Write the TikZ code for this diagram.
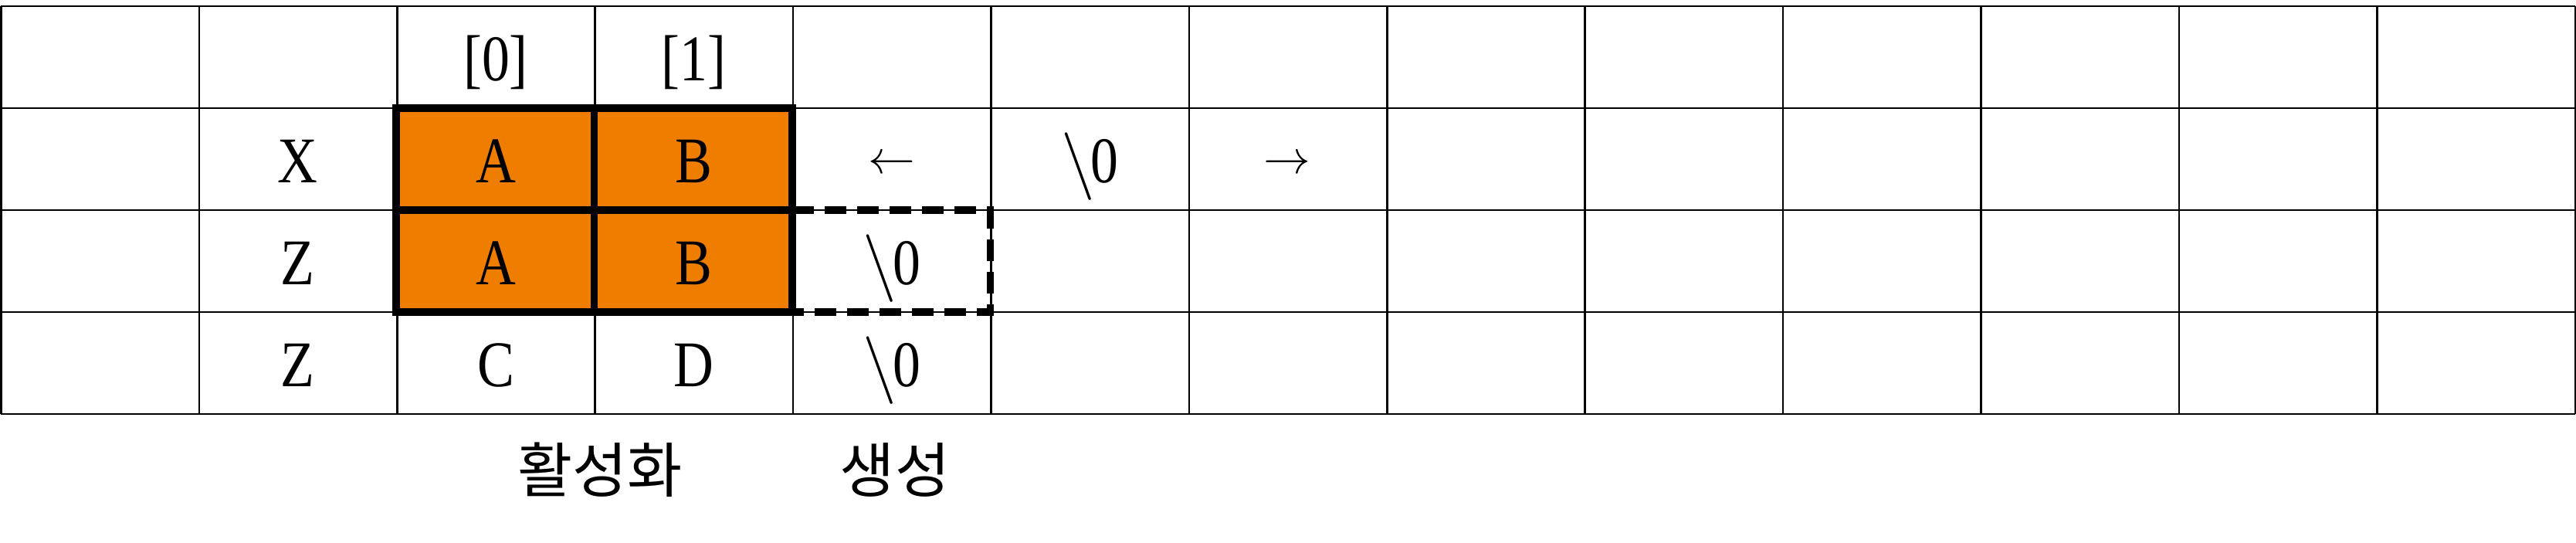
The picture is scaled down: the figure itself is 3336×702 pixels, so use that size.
\documentclass[tikz,border=0pt]{standalone}
\usepackage{fontspec}
\setmainfont[FakeStretch=0.85]{Liberation Serif}
\newfontfamily\krfont{Noto Sans CJK KR}
\definecolor{cellorange}{RGB}{238,125,0}
\newcommand{\bsz}{\raisebox{-0.02em}{$\backslash$}\kern-0.06em 0}
\begin{document}
\begin{tikzpicture}[x=0.01cm,y=-0.01cm,
  gridline/.style={line width=0.7pt,black},
  thickline/.style={line width=2.7pt,black},
  dashline/.style={line width=2.7pt,black,dash pattern=on 0.28cm off 0.14cm},
  celltext/.style={font=\fontsize{24}{28}\selectfont,inner sep=0pt,anchor=base},
  arrowtext/.style={font=\fontsize{17}{20}\selectfont,inner sep=0pt,anchor=center},
  krtext/.style={font=\krfont\fontsize{22}{26}\selectfont,inner sep=0pt,anchor=center}]
\useasboundingbox (0,0) rectangle (3336,702);
% orange block
\fill[cellorange] (513,140) rectangle (1026,404);
% grid
\foreach \i in {0,...,13} \draw[gridline] ({1.5+\i*256.4},8) -- ({1.5+\i*256.4},536);
\foreach \y in {8,140,272,404,536} \draw[gridline] (1.5,\y) -- (3334.7,\y);
% thick border
\draw[thickline] (513,140) rectangle (1026,404);
\draw[thickline] (769.5,140) -- (769.5,404);
\draw[thickline] (513,272) -- (1026,272);
% dashed box
\draw[dashline] (1026,272) -- (1282.5,272) -- (1282.5,404) -- (1026,404);
% texts
\node[celltext] (h0) at (642,104) {[0]};
\node[celltext] (h1) at (898.5,104) {[1]};
\node[celltext] (x) at (385.5,236) {X};
\node[celltext] (a1) at (642,236) {A};
\node[celltext] (b1) at (898.5,236) {B};
\node[arrowtext] (la) at (1155,213) {$\leftarrow$};
\node[celltext] (n1) at (1411.5,236) {\bsz};
\node[arrowtext] (ra) at (1667,213) {$\rightarrow$};
\node[celltext] (z1) at (385.5,368) {Z};
\node[celltext] (a2) at (642,368) {A};
\node[celltext] (b2) at (898.5,368) {B};
\node[celltext] (n2) at (1155,368) {\bsz};
\node[celltext] (z2) at (385.5,500) {Z};
\node[celltext] (c) at (642,500) {C};
\node[celltext] (d) at (898.5,500) {D};
\node[celltext] (n3) at (1155,500) {\bsz};
\node[krtext] (act) at (777,608) {활성화};
\node[krtext] (gen) at (1159,608) {생성};
\end{tikzpicture}
\end{document}
